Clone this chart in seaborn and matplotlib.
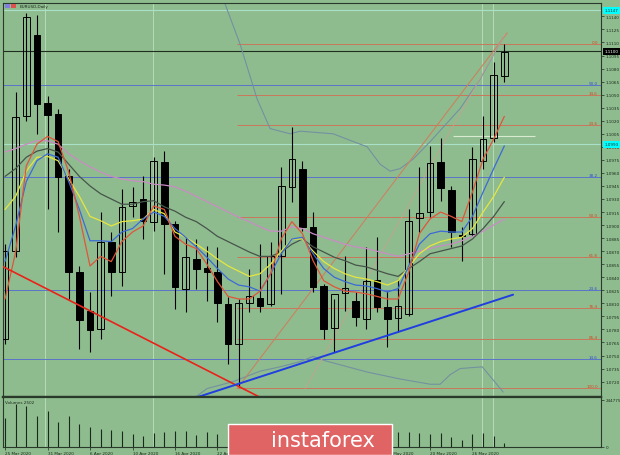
import numpy as np
import pandas as pd
import matplotlib
matplotlib.use("Agg")
import matplotlib.pyplot as plt
import seaborn as sns
from matplotlib.patches import Rectangle

# ---------------- data ----------------
symbol_title = "EURUSD,Daily"
volume_title = "Volumes 2502"

xtick_bars = [0, 4, 8, 12, 16, 20, 24, 28, 32, 36, 40, 44]
xtick_labels = ["25 Mar 2020", "31 Mar 2020", "6 Apr 2020", "10 Apr 2020", "16 Apr 2020",
                "22 Apr 2020", "28 Apr 2020", "4 May 2020", "8 May 2020", "14 May 2020",
                "20 May 2020", "26 May 2020"]

opens = [1.07690, 1.08702, 1.10254, 1.11186, 1.10404, 1.10278, 1.09565, 1.08461, 1.08012, 1.07805,
         1.08806, 1.08461, 1.09220, 1.09300, 1.09036, 1.09726, 1.09013, 1.08265, 1.08610, 1.08507,
         1.08461, 1.08093, 1.07633, 1.08104, 1.08162, 1.08093, 1.08645, 1.09438, 1.09645, 1.08978,
         1.08300, 1.07817, 1.08219, 1.08127, 1.07920, 1.08369, 1.08058, 1.07932, 1.07978, 1.09082,
         1.09151, 1.09726, 1.09404, 1.08886, 1.08898, 1.09737, 1.10002, 1.10714]
highs = [1.08783, 1.10531, 1.11439, 1.11416, 1.10485, 1.10335, 1.09645, 1.08530, 1.08231, 1.09151,
         1.08921, 1.09415, 1.09438, 1.09565, 1.09783, 1.09852, 1.09047, 1.08863, 1.08840, 1.08760,
         1.08748, 1.08173, 1.08150, 1.08495, 1.08783, 1.08806, 1.09668, 1.10128, 1.09737, 1.09151,
         1.08323, 1.08150, 1.08645, 1.08231, 1.08748, 1.08863, 1.08242, 1.08380, 1.09185, 1.09668,
         1.09910, 1.10002, 1.09450, 1.08978, 1.09898, 1.10254, 1.10876, 1.11083]
lows = [1.07633, 1.08633, 1.10197, 1.10048, 1.09185, 1.08921, 1.08150, 1.07575, 1.07541, 1.07690,
        1.08185, 1.08300, 1.09093, 1.08840, 1.08932, 1.08438, 1.08035, 1.08001, 1.08265, 1.08127,
        1.07886, 1.07403, 1.07138, 1.08001, 1.08001, 1.08070, 1.08208, 1.09266, 1.08932, 1.08231,
        1.07690, 1.07541, 1.08012, 1.07840, 1.07805, 1.08001, 1.07598, 1.07771, 1.07955, 1.08921,
        1.09093, 1.09277, 1.08748, 1.08587, 1.08875, 1.09645, 1.09956, 1.10646]
closes = [1.08702, 1.10243, 1.11393, 1.10392, 1.10266, 1.09553, 1.08461, 1.07909, 1.07794, 1.08806,
          1.08461, 1.09208, 1.09266, 1.09047, 1.09737, 1.09013, 1.08288, 1.08633, 1.08495, 1.08461,
          1.08104, 1.07633, 1.08104, 1.08185, 1.08070, 1.08645, 1.09450, 1.09760, 1.08978, 1.08288,
          1.07805, 1.08208, 1.08277, 1.07943, 1.08357, 1.08058, 1.07920, 1.08070, 1.09047, 1.09139,
          1.09714, 1.09427, 1.08920, 1.08875, 1.09760, 1.09990, 1.10726, 1.10995]
volumes = [150000, 223600, 213200, 161200, 187200, 130000, 161200, 119600, 104000, 93600,
           88400, 83200, 67600, 57200, 72800, 78000, 83200, 83200, 62400, 78000,
           67600, 90000, 110000, 70000, 65000, 60000, 85000, 80000, 75000, 65000,
           70000, 68000, 62000, 58000, 66000, 60000, 62000, 78000, 78000, 72800,
           67600, 72800, 52000, 36400, 67600, 72800, 57200, 20800]

ma_red = [1.0815, 1.0869, 1.0968, 1.0993, 1.1002, 1.0996, 1.0961, 1.0910, 1.0853, 1.0864,
          1.0858, 1.0881, 1.0892, 1.0899, 1.0922, 1.0918, 1.0887, 1.0878, 1.0873, 1.0855,
          1.0835, 1.0818, 1.0815, 1.0815, 1.0824, 1.0844, 1.0884, 1.0904, 1.0890, 1.0859,
          1.0836, 1.0829, 1.0824, 1.0823, 1.0821, 1.0818, 1.0815, 1.0815, 1.0846, 1.0890,
          1.0907, 1.0915, 1.0910, 1.0904, 1.0938, 1.0976, 1.0999, 1.1025]
ma_blue = [1.0858, 1.0899, 1.0950, 1.0974, 1.0982, 1.0978, 1.0950, 1.0918, 1.0882, 1.0882,
           1.0881, 1.0892, 1.0896, 1.0907, 1.0915, 1.0910, 1.0896, 1.0886, 1.0875, 1.0863,
           1.0850, 1.0838, 1.0831, 1.0829, 1.0824, 1.0844, 1.0867, 1.0884, 1.0886, 1.0867,
           1.0850, 1.0840, 1.0835, 1.0831, 1.0830, 1.0827, 1.0823, 1.0827, 1.0853, 1.0878,
           1.0890, 1.0893, 1.0892, 1.0892, 1.0910, 1.0938, 1.0965, 1.0991]
ma_yellow = [1.0918, 1.0933, 1.0962, 1.0978, 1.0979, 1.0974, 1.0953, 1.0933, 1.0910, 1.0905,
             1.0899, 1.0904, 1.0905, 1.0907, 1.0918, 1.0913, 1.0892, 1.0886, 1.0878, 1.0870,
             1.0861, 1.0853, 1.0847, 1.0841, 1.0844, 1.0855, 1.0870, 1.0884, 1.0884, 1.0870,
             1.0858, 1.0850, 1.0844, 1.0840, 1.0838, 1.0835, 1.0831, 1.0836, 1.0852, 1.0867,
             1.0876, 1.0881, 1.0884, 1.0886, 1.0896, 1.0915, 1.0933, 1.0955]
ma_gray = [1.0956, 1.0965, 1.0978, 1.0985, 1.0988, 1.0984, 1.0970, 1.0956, 1.0945, 1.0936,
           1.0930, 1.0924, 1.0924, 1.0927, 1.0928, 1.0921, 1.0916, 1.0909, 1.0904, 1.0896,
           1.0887, 1.0881, 1.0875, 1.0869, 1.0864, 1.0864, 1.0869, 1.0878, 1.0884, 1.0875,
           1.0869, 1.0863, 1.0859, 1.0854, 1.0852, 1.0848, 1.0844, 1.0841, 1.0850, 1.0858,
           1.0867, 1.0870, 1.0873, 1.0876, 1.0884, 1.0896, 1.0910, 1.0927]
ma_purple = [1.0984, 1.0988, 1.0993, 1.0997, 1.0997, 1.0993, 1.0982, 1.0974, 1.0967, 1.0961,
             1.0956, 1.0953, 1.0951, 1.0950, 1.0947, 1.0946, 1.0944, 1.0939, 1.0933, 1.0927,
             1.0921, 1.0915, 1.0909, 1.0904, 1.0898, 1.0893, 1.0893, 1.0898, 1.0896, 1.0890,
             1.0886, 1.0882, 1.0878, 1.0875, 1.0873, 1.0870, 1.0867, 1.0864, 1.0867, 1.0870,
             1.0873, 1.0876, 1.0878, 1.0882, 1.0887, 1.0893, 1.0900, 1.0907]

band_up_bar = [20.72, 22.13, 23.73, 24.95, 26.84, 27.78, 30.88, 34.09, 35.31, 36.25, 37.19,
               38.42, 40.02, 42.84, 44.73, 46.89]
band_up_price = [1.1154, 1.1108, 1.1045, 1.1011, 1.1005, 1.1008, 1.1005, 1.0990, 1.0970, 1.0962,
                 1.0965, 1.0976, 1.0996, 1.1034, 1.1068, 1.1116]
band_lo_bar = [17.89, 19.02, 21.47, 24.01, 25.89, 27.78, 29.0, 30.13, 34.09, 37.19, 40.02,
               40.96, 41.9, 42.84, 44.92, 45.67, 46.89]
band_lo_price = [1.0702, 1.0712, 1.0720, 1.0732, 1.0737, 1.0743, 1.0749, 1.0744, 1.0731, 1.0723,
                 1.0717, 1.0717, 1.0728, 1.0735, 1.0737, 1.0726, 1.0708]

red_trend_bar = [-0.47, 24.0]
red_trend_price = [1.0854, 1.0702]
blue_trend_bar = [18.08, 47.83]
blue_trend_price = [1.0702, 1.0820]
fan_bar = [21.85, 47.27]
fan_price = [1.0712, 1.1121]
fan2_bar = [28.25, 47.08]
fan2_price = [1.0712, 1.1120]

fib_orange_start = 21.85
fib_orange_price = [1.1108, 1.1050, 1.1015, 1.0909, 1.0863, 1.0805, 1.0769, 1.0713]
fib_orange_label = ["0.0", "14.6", "23.6", "50.0", "61.8", "76.4", "85.4", "100.0"]
fib_blue_price = [1.1061, 1.0955, 1.0825, 1.0746]
fib_blue_label = ["50.0", "38.2", "23.6", "14.6"]

cyan_price = [1.1147, 1.0993]
cyan_label = ["1.1147", "1.0993"]
last_price = 1.1100
last_label = "1.1100"
pale_line_bar = [42.18, 49.9]
pale_line_price = 1.1002
vgrid_bars = [3.77, 13.94, 44.92, 45.95]

ytick_values = [1.0720, 1.0735, 1.0750, 1.0765, 1.0780, 1.0795, 1.0810, 1.0825, 1.0840, 1.0855,
                1.0870, 1.0885, 1.0900, 1.0915, 1.0930, 1.0945, 1.0960, 1.0975, 1.0990, 1.1005,
                1.1020, 1.1035, 1.1050, 1.1065, 1.1080, 1.1095, 1.1110, 1.1125, 1.1140]
ytick_labels = ["%.4f" % v for v in ytick_values]
vol_ticks = [0, 244775]
vol_tick_labels = ["0", "244775"]

watermark = "instaforex"

# ---------------- styling ----------------
BG = "#8fbc8f"
W, H = 620, 456
sns.set_theme(style="white")
plt.rcParams["font.family"] = ["DejaVu Sans"]

fig = plt.figure(figsize=(W / 100, H / 100), dpi=100, facecolor=BG)

def fx(px):
    return px / W

def fy(py):
    return 1 - py / H

ax = fig.add_axes([fx(3), fy(398), fx(601) - fx(3), fy(4) - fy(398)], facecolor=BG)
axv = fig.add_axes([fx(3), fy(448), fx(601) - fx(3), fy(398) - fy(448)], facecolor=BG, sharex=ax)

n = len(opens)
bars = np.arange(n)
XMIN, XMAX = -0.19, 56.1
YMIN, YMAX = 1.07023, 1.11554

# grid / separators
for b in vgrid_bars:
    ax.axvline(b, color="#b9d9b9", lw=0.7, zorder=0.5)
    axv.axvline(b, color="#b9d9b9", lw=0.7, zorder=0.5)

# cyan / pale lines
for p in cyan_price:
    ax.axhline(p, color="#a8e0c8", lw=0.8, zorder=0.8)
ax.hlines(pale_line_price, pale_line_bar[0], pale_line_bar[1], color="#d8ead0", lw=0.8, zorder=0.8)

# fib levels
for p, lab in zip(fib_blue_price, fib_blue_label):
    ax.axhline(p, color="#5a74c8", lw=0.7, zorder=1)
    ax.text(XMAX - 0.3, p, lab, color="#3050d0", fontsize=3, ha="right", va="bottom", zorder=6)
for p, lab in zip(fib_orange_price, fib_orange_label):
    ax.hlines(p, fib_orange_start, XMAX, color="#c8785a", lw=0.7, zorder=1)
    ax.text(XMAX - 0.3, p, lab, color="#d04a20", fontsize=3, ha="right", va="bottom", zorder=6)

# current price line
ax.axhline(last_price, color="#1f2f1f", lw=0.8, zorder=1.2)

# bands and diagonal lines
ax.plot(band_up_bar, band_up_price, color="#7391a0", lw=0.8, zorder=1.5)
ax.plot(band_lo_bar, band_lo_price, color="#7391a0", lw=0.8, zorder=1.5)
ax.plot(fan_bar, fan_price, color="#c98260", lw=0.8, zorder=1.5)
ax.plot(fan2_bar, fan2_price, color="#c9a090", lw=0.7, zorder=1.5, alpha=0.8)

# candles
ax.vlines(bars, lows, highs, color="black", lw=0.8, zorder=3)
o = np.array(opens)
c = np.array(closes)
bull = c >= o
ax.bar(bars[bull], (c - o)[bull], bottom=o[bull], width=0.62, facecolor="none",
       edgecolor="black", linewidth=0.7, zorder=3.2)
ax.bar(bars[~bull], (o - c)[~bull] + 0.00004, bottom=c[~bull], width=0.62, facecolor="black",
       edgecolor="black", linewidth=0.7, zorder=3.2)

# moving averages via seaborn
ma_df = pd.DataFrame({
    "bar": np.tile(bars, 5),
    "price": ma_purple + ma_gray + ma_yellow + ma_blue + ma_red,
    "ma": ["purple"] * n + ["gray"] * n + ["yellow"] * n + ["blue"] * n + ["red"] * n,
})
palette = {"purple": "#c98cc4", "gray": "#46554a", "yellow": "#e6e640",
           "blue": "#3c6ad6", "red": "#e0553a"}
sns.lineplot(data=ma_df, x="bar", y="price", hue="ma", palette=palette, ax=ax,
             legend=False, linewidth=0.9, estimator=None, sort=False, zorder=4)

# trend lines
ax.plot(red_trend_bar, red_trend_price, color="#e8231a", lw=1.2, zorder=5)
ax.plot(blue_trend_bar, blue_trend_price, color="#1f3fe0", lw=1.4, zorder=5)

# volumes
axv.vlines(bars, 0, volumes, color="#1a2a1a", lw=0.8, zorder=3)

# axes limits and ticks
ax.set_xlim(XMIN, XMAX)
ax.set_ylim(YMIN, YMAX)
axv.set_ylim(0, 260000)
ax.set_xlabel("")
ax.set_ylabel("")
axv.set_xlabel("")
axv.set_ylabel("")

ax.yaxis.tick_right()
ax.set_yticks(ytick_values)
ax.set_yticklabels(ytick_labels)
ax.tick_params(axis="y", right=True, length=2, width=0.5, pad=1.5, labelsize=3, colors="#1a2a1a")
ax.tick_params(axis="x", bottom=False, labelbottom=False)

axv.yaxis.tick_right()
axv.set_yticks(vol_ticks)
axv.set_yticklabels(vol_tick_labels)
axv.tick_params(axis="y", right=True, length=2, width=0.5, pad=1.5, labelsize=3, colors="#1a2a1a")
axv.set_xticks(xtick_bars)
axv.set_xticklabels(xtick_labels, ha="left")
axv.tick_params(axis="x", bottom=True, length=2, width=0.5, pad=0.8, labelsize=3, colors="#1a2a1a")

for a in (ax, axv):
    for s in a.spines.values():
        s.set_color("#2a3a2a")
        s.set_linewidth(0.8)
ax.spines["bottom"].set_linewidth(1.6)
axv.spines["top"].set_linewidth(1.6)

# price boxes on the right axis
for p, lab in zip(cyan_price, cyan_label):
    ax.text(XMAX + 0.3, p, lab, fontsize=3, color="#103030", va="center", ha="left",
            zorder=10, clip_on=False,
            bbox=dict(boxstyle="square,pad=0.35", facecolor="#00ffff", edgecolor="none"))
ax.text(XMAX + 0.3, last_price, last_label, fontsize=3, color="white", va="center", ha="left",
        zorder=10, clip_on=False,
        bbox=dict(boxstyle="square,pad=0.35", facecolor="black", edgecolor="none"))

# titles
fig.patches.append(Rectangle((fx(5), fy(9)), 5 / W, 4 / H, transform=fig.transFigure,
                             facecolor="#8080e0", edgecolor="none"))
fig.patches.append(Rectangle((fx(11), fy(9)), 5 / W, 4 / H, transform=fig.transFigure,
                             facecolor="#e05050", edgecolor="none"))
fig.text(fx(20), fy(7), symbol_title, fontsize=3, color="#1a2a1a", va="center", ha="left")
fig.text(fx(5), fy(403), volume_title, fontsize=3, color="#1a2a1a", va="center", ha="left")

# watermark
fig.patches.append(Rectangle((fx(228), fy(456)), (392 - 228) / W, (456 - 425) / H,
                             transform=fig.transFigure, facecolor="#e06464",
                             edgecolor="white", linewidth=1.0, zorder=20))
fig.text(fx(323), fy(441), watermark, fontsize=15, color="white", ha="center", va="center",
         zorder=21)

fig.savefig("out.png", dpi=100, facecolor=BG)
